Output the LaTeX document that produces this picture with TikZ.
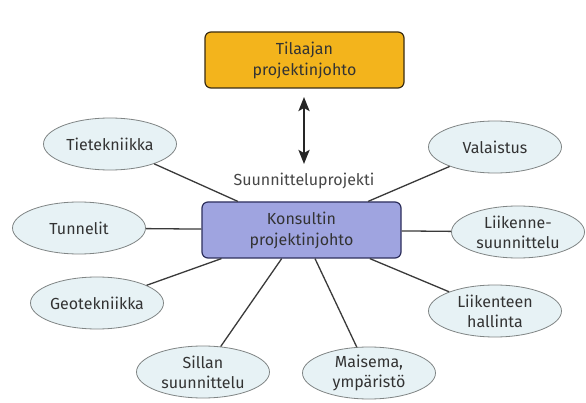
\documentclass[tikz,border=0pt]{standalone}
\usepackage{fontspec}
\setmainfont{Fira Sans}
\usetikzlibrary{shapes.geometric,arrows.meta}
\definecolor{orangefill}{HTML}{F3B41C}
\definecolor{orangedraw}{HTML}{3A2C12}
\definecolor{lavfill}{HTML}{9FA4E0}
\definecolor{lavdraw}{HTML}{2C2E5C}
\definecolor{ellfill}{HTML}{E7F2F5}
\definecolor{elldraw}{HTML}{808585}
\definecolor{txt}{HTML}{333333}
\definecolor{linecol}{HTML}{3A3A3A}
\tikzset{
  mainbox/.style={rectangle, rounded corners=6pt, line width=1.2pt, minimum width=199pt, minimum height=56pt, inner sep=0pt, align=center, text=txt, font=\fontsize{16}{21}\selectfont},
  topic/.style={ellipse, fill=ellfill, draw=elldraw, line width=0.8pt, minimum width=133pt, minimum height=52pt, inner sep=0pt, align=center, text=txt, font=\fontsize{16}{20}\selectfont},
  spoke/.style={draw=linecol, line width=1.3pt},
}
\begin{document}
\begin{tikzpicture}[x=1pt,y=-1pt]
\useasboundingbox[fill=white] (0,0) rectangle (586,403);
\node[mainbox, fill=orangefill, draw=orangedraw] (top) at (304.5,60) {Tilaajan\\projektinjohto};
\node[mainbox, fill=lavfill, draw=lavdraw] (kons) at (301.5,230) {Konsultin\\projektinjohto};
\coordinate (a1) at (304,97);
\coordinate (a2) at (304,164);
\draw[line width=2.4pt, color=black!85, {Stealth[length=14pt,width=11pt,inset=3pt]}-{Stealth[length=14pt,width=11pt,inset=3pt]}] (a1) -- (a2);
\node[text=txt!90, font=\fontsize{16}{20}\selectfont] (lbl) at (304,181) {Suunnitteluprojekti};

\node[topic] (tie) at (110,144) {Tietekniikka};
\node[topic] (tun) at (79,228) {Tunnelit};
\node[topic] (geo) at (97,303) {Geotekniikka};
\node[topic] (sil) at (203,372) {Sillan\\suunnittelu};
\node[topic] (mai) at (369,373) {Maisema,\\ympäristö};
\node[topic] (lh) at (495,311) {Liikenteen\\hallinta};
\node[topic] (ls) at (518,232) {Liikenne-\\suunnittelu};
\node[topic] (val) at (495,147) {Valaistus};

\foreach \n in {tie,tun,geo,sil,mai,lh,ls,val}
  \draw[spoke] (\n) -- (kons);
\end{tikzpicture}
\end{document}
